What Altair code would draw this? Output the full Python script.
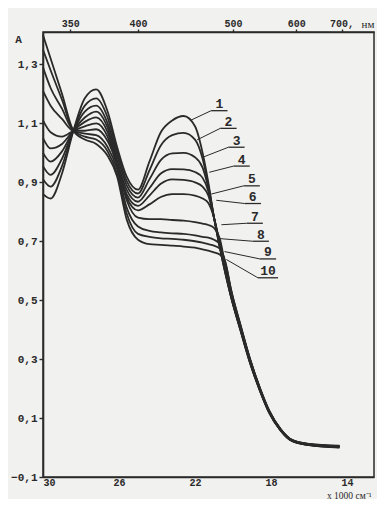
import altair as alt
import pandas as pd

# wavenumber (x 1000 cm-1) key positions
W = [30.0, 29.6, 29.0, 28.4, 27.8, 27.2, 26.6, 26.1, 25.6, 25.0, 24.4, 23.8, 23.2, 22.6,
     22.0, 21.6, 21.3, 21.0, 20.7, 20.4, 20.1, 19.6, 19.1, 18.6, 18.1, 17.5, 16.9, 16.0, 14.4]

c1 = [0.86, 0.845, 0.93, 1.075, 1.185, 1.215, 1.14, 1.02, 0.92, 0.875, 0.97, 1.07, 1.11, 1.125,
      1.09, 1.00, 0.90, 0.78, 0.68, 0.59, 0.51, 0.395, 0.285, 0.195, 0.118, 0.058, 0.022, 0.008, 0.0]
c2 = [0.91, 0.885, 0.955, 1.075, 1.16, 1.185, 1.12, 1.005, 0.905, 0.862, 0.94, 1.025, 1.06, 1.068,
      1.045, 0.98, 0.89, 0.78, 0.68, 0.59, 0.51, 0.397, 0.287, 0.196, 0.119, 0.058, 0.022, 0.008, 0.001]
c3 = [0.955, 0.925, 0.98, 1.075, 1.14, 1.16, 1.10, 0.99, 0.89, 0.848, 0.91, 0.975, 0.998, 1.0,
      0.985, 0.95, 0.88, 0.78, 0.685, 0.595, 0.512, 0.399, 0.289, 0.197, 0.12, 0.059, 0.023, 0.009, 0.002]
c4 = [1.0, 0.97, 1.005, 1.075, 1.12, 1.14, 1.085, 0.975, 0.875, 0.834, 0.88, 0.93, 0.945, 0.944,
      0.935, 0.915, 0.87, 0.78, 0.69, 0.60, 0.515, 0.401, 0.291, 0.198, 0.121, 0.06, 0.023, 0.009, 0.003]
c5 = [1.05, 1.015, 1.03, 1.075, 1.105, 1.12, 1.07, 0.965, 0.86, 0.82, 0.855, 0.895, 0.91, 0.908,
      0.90, 0.885, 0.855, 0.78, 0.69, 0.60, 0.515, 0.403, 0.293, 0.2, 0.122, 0.061, 0.024, 0.01, 0.003]
c6 = [1.11, 1.07, 1.055, 1.075, 1.09, 1.10, 1.055, 0.955, 0.85, 0.805, 0.825, 0.85, 0.86, 0.86,
      0.855, 0.845, 0.83, 0.78, 0.695, 0.605, 0.52, 0.405, 0.294, 0.201, 0.122, 0.061, 0.024, 0.01, 0.004]
c7 = [1.21, 1.16, 1.115, 1.075, 1.075, 1.08, 1.04, 0.96, 0.84, 0.78, 0.775, 0.775, 0.772, 0.77,
      0.765, 0.76, 0.755, 0.745, 0.71, 0.615, 0.525, 0.408, 0.296, 0.202, 0.123, 0.062, 0.025, 0.011, 0.004]
c8 = [1.29, 1.22, 1.15, 1.075, 1.065, 1.06, 1.02, 0.945, 0.815, 0.75, 0.735, 0.73, 0.727, 0.725,
      0.72, 0.715, 0.712, 0.705, 0.69, 0.62, 0.53, 0.41, 0.297, 0.203, 0.124, 0.062, 0.025, 0.011, 0.005]
c9 = [1.35, 1.28, 1.18, 1.075, 1.055, 1.045, 1.005, 0.93, 0.795, 0.725, 0.715, 0.71, 0.708, 0.705,
      0.70, 0.695, 0.69, 0.685, 0.675, 0.63, 0.535, 0.413, 0.299, 0.204, 0.125, 0.063, 0.026, 0.012, 0.005]
c10 = [1.40, 1.32, 1.20, 1.075, 1.045, 1.03, 0.99, 0.92, 0.775, 0.705, 0.69, 0.688, 0.685, 0.682,
       0.678, 0.672, 0.668, 0.662, 0.655, 0.625, 0.535, 0.415, 0.30, 0.205, 0.126, 0.063, 0.026, 0.012, 0.006]

curve_names = ["1", "2", "3", "4", "5", "6", "7", "8", "9", "10"]
curves = [c1, c2, c3, c4, c5, c6, c7, c8, c9, c10]

# curve labels: text position, underline and leader start (data units)
label_w = [20.72, 20.24, 19.81, 19.55, 19.01, 18.96, 18.85, 18.53, 18.16, 18.16]
label_a = [1.165, 1.105, 1.041, 0.977, 0.910, 0.850, 0.783, 0.722, 0.662, 0.598]
under_w1 = [21.15, 20.67, 20.24, 19.97, 19.44, 19.39, 19.28, 18.96, 18.59, 18.69]
under_w2 = [20.29, 19.81, 19.39, 19.12, 18.59, 18.53, 18.43, 18.11, 17.73, 17.63]
under_a = [1.143, 1.083, 1.019, 0.955, 0.888, 0.828, 0.761, 0.700, 0.640, 0.576]
lead_w = [22.21, 21.89, 21.63, 21.25, 21.15, 20.88, 20.61, 20.72, 20.45, 20.35]
lead_a = [1.111, 1.044, 0.984, 0.934, 0.860, 0.839, 0.756, 0.709, 0.665, 0.638]

bottom_ticks = [30, 26, 22, 18, 14]
left_ticks = [-0.1, 0.1, 0.3, 0.5, 0.7, 0.9, 1.1, 1.3]
top_nm = [350, 400, 500, 600, 700]
top_ticks = [10000.0 / n for n in top_nm]

INK = "#2a2a2a"
BG = "#f1f1ef"
FONT = "Liberation Mono"

rows = []
for name, vals in zip(curve_names, curves):
    for w, a in zip(W, vals):
        rows.append({"w": w, "A": a, "curve": name})
df = pd.DataFrame(rows)

lab = pd.DataFrame({
    "curve": curve_names, "tw": label_w, "ta": label_a,
    "uw1": under_w1, "uw2": under_w2, "ua": under_a,
    "lw": lead_w, "la": lead_a,
})

xs = alt.Scale(domain=[12.58, 30], reverse=True, nice=False, zero=False)
ys = alt.Scale(domain=[-0.1, 1.41], nice=False, zero=False)

lines = alt.Chart(df).mark_line(
    interpolate="monotone", color=INK, strokeWidth=1.8
).encode(
    x=alt.X("w:Q", scale=xs, axis=alt.Axis(
        values=bottom_ticks, format="d", orient="bottom",
        title="x 1000 см⁻¹", titleX=328, titleY=21, titleAlign="right",
        titleBaseline="alphabetic", titleAnchor="end", titleFont="Liberation Serif",
        titleFontSize=9.5, titleFontWeight="normal",
        tickSize=0, labelPadding=0, labelFontSize=10)),
    y=alt.Y("A:Q", scale=ys, axis=alt.Axis(
        values=left_ticks,
        labelExpr="replace(format(datum.value, '.1f'), '.', ',')",
        title="A", titleAngle=0, titleX=-25, titleY=7, titleAlign="center",
        titleBaseline="middle", titleFont=FONT, titleFontSize=11,
        titleFontWeight="bold", tickSize=4, labelPadding=2)),
    detail="curve:N",
    order=alt.Order("w:Q", sort="descending"),
)

leaders = alt.Chart(lab).mark_rule(color=INK, strokeWidth=1.0).encode(
    x=alt.X("lw:Q", scale=xs, axis=None),
    y=alt.Y("la:Q", scale=ys, axis=None),
    x2="uw1:Q", y2="ua:Q",
)

underlines = alt.Chart(lab).mark_rule(color=INK, strokeWidth=1.3).encode(
    x=alt.X("uw1:Q", scale=xs, axis=alt.Axis(
        values=top_ticks, orient="top",
        labelExpr="format(10000 / datum.value, 'd') + (datum.value < 15 ? ',' : '')",
        title="нм", titleX=318, titleY=-8, titleAlign="left", titleAnchor="start",
        titleBaseline="middle", titleFont="Liberation Serif", titleFontSize=11,
        titleFontWeight="normal", tickSize=3, labelPadding=1, labelFontSize=10)),
    x2="uw2:Q",
    y=alt.Y("ua:Q", scale=ys, axis=None),
)

labels = alt.Chart(lab).mark_text(
    font=FONT, fontWeight="bold", fontSize=13, color=INK, baseline="middle", align="center"
).encode(
    x=alt.X("tw:Q", scale=xs, axis=None),
    y=alt.Y("ta:Q", scale=ys, axis=None),
    text="curve:N",
)

chart = alt.layer(lines, leaders, underlines, labels).resolve_axis(
    x="independent", y="independent"
).properties(
    width=331, height=445,
    padding={"left": 35, "top": 24, "right": 3, "bottom": 22},
    autosize=alt.AutoSizeParams(type="none"),
    background=BG,
).configure_view(
    stroke=INK, strokeWidth=1.5
).configure_axis(
    grid=False, domainColor=INK, domainWidth=1.6, tickColor=INK, tickWidth=1.4,
    labelColor=INK, titleColor=INK, labelFont=FONT, labelFontWeight="bold",
    labelFontSize=11,
)

chart.save("out.html", embed_options={"renderer": "svg", "actions": False})
